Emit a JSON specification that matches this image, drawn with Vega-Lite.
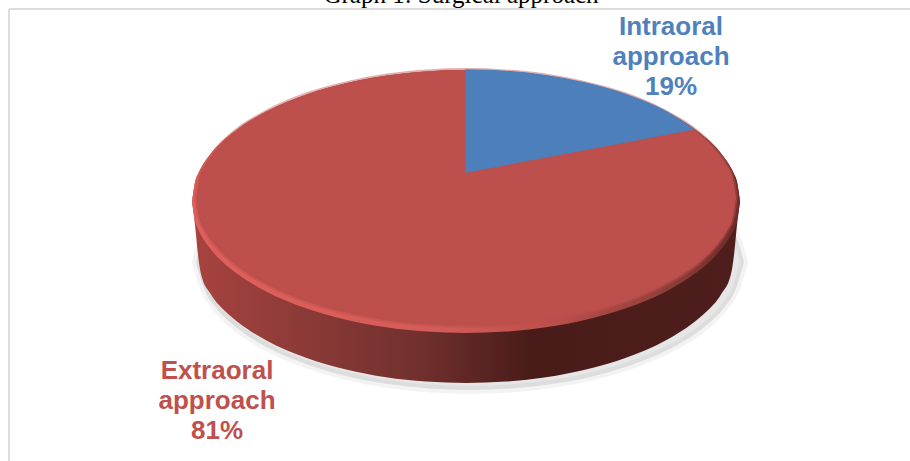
{
"$schema":"https://vega.github.io/schema/vega-lite/v6.json",
"width":910,"height":461,"padding":0,
"autosize":{"type":"none"},
"background":"#ffffff",
"view":{"stroke":null},
"datasets":{
"frame":[{"x":9,"x2":9,"y":9,"y2":461},{"x":9,"x2":910,"y":9,"y2":9}],
"shadow":[
{"x":196,"high":262,"low":262},{"x":199,"high":251,"low":273},{"x":205,"high":233.2,"low":290.8},{"x":215,"high":217.5,"low":306.5},{"x":230,"high":201.7,"low":322.3},{"x":243,"high":191.5,"low":332.5},{"x":270,"high":175.2,"low":348.8},{"x":310,"high":158.5,"low":365.5},{"x":350,"high":147.1,"low":376.9},{"x":390,"high":139.7,"low":384.3},{"x":430,"high":135.4,"low":388.6},{"x":470,"high":134,"low":390},{"x":510,"high":135.4,"low":388.6},{"x":550,"high":139.7,"low":384.3},{"x":590,"high":147.1,"low":376.9},{"x":630,"high":158.5,"low":365.5},{"x":670,"high":175.2,"low":348.8},{"x":697,"high":191.5,"low":332.5},{"x":710,"high":201.7,"low":322.3},{"x":725,"high":217.5,"low":306.5},{"x":735,"high":233.2,"low":290.8},{"x":741,"high":251,"low":273},{"x":744,"high":262,"low":262}],
"outline":[
{"x":192,"top":201.5,"bottom":201.5,"wall":201.5},{"x":195,"top":182.1,"bottom":220.9,"wall":225},{"x":198,"top":174.1,"bottom":228.9,"wall":255},{"x":201,"top":168.1,"bottom":234.9,"wall":274},{"x":211,"top":153.4,"bottom":249.6,"wall":294.4},{"x":226,"top":138.1,"bottom":264.9,"wall":312},{"x":239,"top":127.9,"bottom":275.1,"wall":323},{"x":266,"top":111.6,"bottom":291.4,"wall":340.2},{"x":306,"top":94.7,"bottom":308.3,"wall":357.7},{"x":346,"top":83.3,"bottom":319.7,"wall":369.4},{"x":386,"top":75.7,"bottom":327.3,"wall":377.2},{"x":426,"top":71.4,"bottom":331.6,"wall":381.6},{"x":466,"top":70,"bottom":333,"wall":383},{"x":506,"top":71.4,"bottom":331.6,"wall":381.6},{"x":546,"top":75.7,"bottom":327.3,"wall":377.2},{"x":586,"top":83.3,"bottom":319.7,"wall":369.4},{"x":626,"top":94.7,"bottom":308.3,"wall":357.7},{"x":666,"top":111.6,"bottom":291.4,"wall":340.2},{"x":693,"top":127.9,"bottom":275.1,"wall":323},{"x":706,"top":138.1,"bottom":264.9,"wall":312},{"x":721,"top":153.4,"bottom":249.6,"wall":294.4},{"x":731,"top":168.1,"bottom":234.9,"wall":274},{"x":734,"top":174.1,"bottom":228.9,"wall":255},{"x":737,"top":182.1,"bottom":220.9,"wall":225},{"x":740,"top":201.5,"bottom":201.5,"wall":201.5}],
"inner":[
{"x":196,"top":198,"bottom":198},{"x":199,"top":179.1,"bottom":216.9},{"x":205,"top":165.5,"bottom":230.5},{"x":215,"top":151.2,"bottom":244.8},{"x":229.5,"top":136.3,"bottom":259.7},{"x":242,"top":126.4,"bottom":269.6},{"x":269,"top":110.5,"bottom":285.5},{"x":308,"top":94,"bottom":302},{"x":348,"top":82.9,"bottom":313.1},{"x":387,"top":75.5,"bottom":320.5},{"x":427,"top":71.4,"bottom":324.6},{"x":466,"top":70,"bottom":326},{"x":505,"top":71.4,"bottom":324.6},{"x":545,"top":75.5,"bottom":320.5},{"x":584,"top":82.9,"bottom":313.1},{"x":624,"top":94,"bottom":302},{"x":663,"top":110.5,"bottom":285.5},{"x":690,"top":126.4,"bottom":269.6},{"x":702.5,"top":136.3,"bottom":259.7},{"x":717,"top":151.2,"bottom":244.8},{"x":727,"top":165.5,"bottom":230.5},{"x":733,"top":179.1,"bottom":216.9},{"x":736,"top":198,"bottom":198}],
"sector":[
{"category":"Intraoral approach","x":466,"edge":70,"spoke":172},{"category":"Intraoral approach","x":506,"edge":71.4,"spoke":164.4},{"category":"Intraoral approach","x":546,"edge":75.7,"spoke":156.8},{"category":"Intraoral approach","x":586,"edge":83.3,"spoke":149.3},{"category":"Intraoral approach","x":626,"edge":94.7,"spoke":141.7},{"category":"Intraoral approach","x":666,"edge":111.6,"spoke":134.1},{"category":"Intraoral approach","x":693,"edge":129,"spoke":129}],
"labels":[
{"text":"Intraoral\napproach\n19%","x":671,"y":27,"category":"Intraoral approach","share":19},
{"text":"Extraoral\napproach\n81%","x":217,"y":371,"category":"Extraoral approach","share":81}],
"title":[{"text":"Graph 1: Surgical approach","x":461,"y":3}]
},
"layer":[
{"data":{"name":"frame"},"mark":{"type":"rule","color":"#dcdcdc","strokeWidth":2},
 "encoding":{"x":{"field":"x","type":"quantitative","scale":{"domain":[0,910],"nice":false,"zero":false},"axis":null},"y":{"field":"y","type":"quantitative","scale":{"domain":[461,0],"nice":false,"zero":false},"axis":null},"x2":{"field":"x2"},"y2":{"field":"y2"}}},
{"data":{"name":"shadow"},"mark":{"type":"area","interpolate":"monotone","fill":"#9a9a9a","fillOpacity":0.25,"stroke":"#9a9a9a","strokeOpacity":0.12,"strokeWidth":8},
 "encoding":{"x":{"field":"x","type":"quantitative"},"y":{"field":"high","type":"quantitative"},"y2":{"field":"low"}}},
{"data":{"name":"outline"},"mark":{"type":"area","interpolate":"monotone","fill":{"gradient":"linear","x1":0,"x2":1,"y1":0,"y2":0,"stops":[{"offset":0,"color":"#a8433f"},{"offset":0.2,"color":"#8c3a37"},{"offset":0.42,"color":"#70302d"},{"offset":0.62,"color":"#481b19"},{"offset":1,"color":"#4f1e1c"}]}},
 "encoding":{"x":{"field":"x","type":"quantitative"},"y":{"field":"top","type":"quantitative"},"y2":{"field":"wall"}}},
{"data":{"name":"outline"},"mark":{"type":"area","interpolate":"monotone","fill":{"gradient":"linear","x1":0,"x2":1,"y1":0,"y2":0,"stops":[{"offset":0,"color":"#e05f5c"},{"offset":0.45,"color":"#d45c58"},{"offset":0.65,"color":"#bd4f4c"},{"offset":0.85,"color":"#92403c"},{"offset":1,"color":"#6e2a28"}]}},
 "encoding":{"x":{"field":"x","type":"quantitative"},"y":{"field":"top","type":"quantitative"},"y2":{"field":"bottom"}}},
{"data":{"name":"inner"},"mark":{"type":"area","interpolate":"monotone","fill":"#bd4f4c","stroke":"#bd4f4c","strokeOpacity":0.45,"strokeWidth":4},
 "encoding":{"x":{"field":"x","type":"quantitative"},"y":{"field":"top","type":"quantitative"},"y2":{"field":"bottom"}}},
{"data":{"name":"sector"},"mark":{"type":"area","interpolate":"monotone","fill":"#4d7fbb","stroke":"#4d7fbb","strokeWidth":1.5},
 "encoding":{"x":{"field":"x","type":"quantitative"},"y":{"field":"edge","type":"quantitative"},"y2":{"field":"spoke"}}},
{"data":{"name":"labels"},"mark":{"type":"text","font":"Liberation Sans","fontWeight":"bold","fontSize":26,"lineHeight":30,"lineBreak":"\n","align":"center","baseline":"middle"},
 "encoding":{"x":{"field":"x","type":"quantitative"},"y":{"field":"y","type":"quantitative"},"text":{"field":"text"},
 "color":{"field":"category","type":"nominal","scale":{"domain":["Intraoral approach","Extraoral approach"],"range":["#4f81bd","#c0504d"]},"legend":null}}},
{"data":{"name":"title"},"mark":{"type":"text","font":"Liberation Serif","fontSize":25,"align":"center","baseline":"alphabetic","color":"#000000"},
 "encoding":{"x":{"field":"x","type":"quantitative"},"y":{"field":"y","type":"quantitative"},"text":{"field":"text"}}}
]
}
